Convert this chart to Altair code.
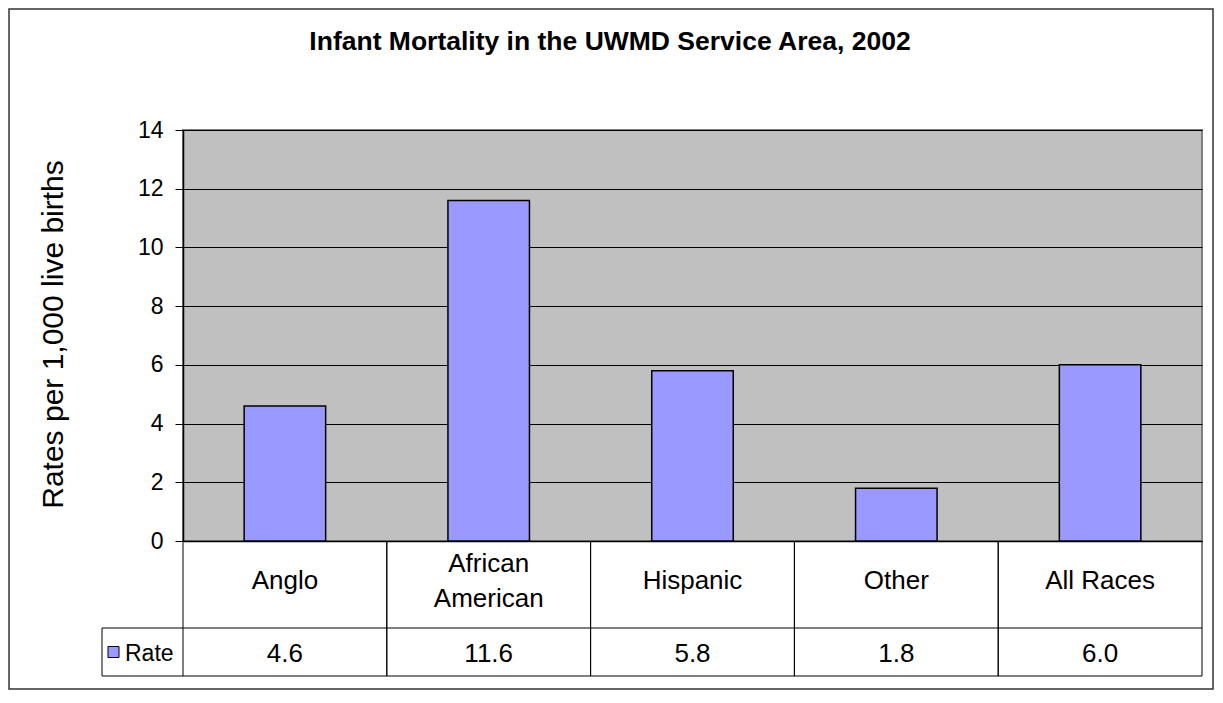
import altair as alt
import pandas as pd

# ---- data ----
categories = ["Anglo", "African American", "Hispanic", "Other", "All Races"]
rates = [4.6, 11.6, 5.8, 1.8, 6.0]
table_labels = ["Anglo", "African\nAmerican", "Hispanic", "Other", "All Races"]
series_name = ["Rate"]
title_text = ["Infant Mortality in the UWMD Service Area, 2002"]
y_title_text = ["Rates per 1,000 live births"]
y_ticks = [0, 2, 4, 6, 8, 10, 12, 14]

df = pd.DataFrame({"category": categories, "rate": rates, "label": table_labels})
one = pd.DataFrame({"series": series_name, "title": title_text, "ytitle": y_title_text})

W, H = 1019, 411
FONT = "Liberation Sans"
ROW1_BOTTOM = 498   # bottom of category-name row (relative to plot top)
ROW2_BOTTOM = 546   # bottom of value row
TABLE_LEFT = -81
LINE_H = 35

x_axis = alt.Axis(labels=False, ticks=False, domain=True, domainColor="black",
                  domainWidth=1.5, title=None, grid=False)
x_scale = alt.Scale(paddingInner=0, paddingOuter=0)


def xenc(bp=None):
    if bp is None:
        return alt.X("category:N", sort=categories, scale=x_scale, axis=x_axis)
    return alt.X("category:N", sort=categories, scale=x_scale, axis=x_axis, bandPosition=bp)


base = alt.Chart(df)

frame = alt.Chart(one).mark_rect(fillOpacity=0, stroke="#333333", strokeWidth=1.5).encode(
    x=alt.value(-174), x2=alt.value(1030), y=alt.value(-121), y2=alt.value(559)
)

bars = base.mark_bar(fill="#9999FF", stroke="black", strokeWidth=1.5,
                     width=alt.RelativeBandSize(0.4)).encode(
    x=xenc(),
    y=alt.Y("rate:Q",
            scale=alt.Scale(domain=[0, 14], nice=False),
            axis=alt.Axis(values=y_ticks, grid=True, gridColor="black", gridWidth=1,
                          tickColor="black", tickSize=8, tickWidth=1,
                          domainColor="black", domainWidth=1.5,
                          labelFont=FONT, labelFontSize=23, labelColor="black",
                          labelPadding=12, title=None)),
)

# single-line category names, vertically centred in the row
cat_text_single = base.transform_filter(
    "indexof(datum.label, '\\n') < 0"
).mark_text(font=FONT, fontSize=26, color="black", baseline="middle").encode(
    x=xenc(), y=alt.value(451), text="label:N"
)
# two-line category names, block centred in the row
cat_text_multi = base.transform_filter(
    "indexof(datum.label, '\\n') >= 0"
).mark_text(font=FONT, fontSize=26, color="black", baseline="middle",
            lineBreak="\n", lineHeight=LINE_H).encode(
    x=xenc(), y=alt.value(451 - LINE_H / 2), text="label:N"
)

val_text = base.mark_text(font=FONT, fontSize=26, color="black", baseline="middle").encode(
    x=xenc(), y=alt.value(524), text=alt.Text("rate:Q", format=".1f")
)

div_left = base.mark_rule(color="black", strokeWidth=1).encode(
    x=xenc(0), y=alt.value(H), y2=alt.value(ROW2_BOTTOM)
)
div_right = base.mark_rule(color="black", strokeWidth=1).encode(
    x=xenc(1), y=alt.value(H), y2=alt.value(ROW2_BOTTOM)
)

hline1 = alt.Chart(one).mark_rule(color="black", strokeWidth=1).encode(
    x=alt.value(TABLE_LEFT), x2=alt.value(W), y=alt.value(ROW1_BOTTOM)
)
hline2 = alt.Chart(one).mark_rule(color="black", strokeWidth=1).encode(
    x=alt.value(TABLE_LEFT), x2=alt.value(W), y=alt.value(ROW2_BOTTOM)
)
vleft = alt.Chart(one).mark_rule(color="black", strokeWidth=1).encode(
    x=alt.value(TABLE_LEFT), y=alt.value(ROW1_BOTTOM), y2=alt.value(ROW2_BOTTOM)
)

swatch = alt.Chart(one).mark_square(size=121, fill="#9999FF", stroke="black",
                                    strokeWidth=1, opacity=1).encode(
    x=alt.value(-69.5), y=alt.value(522)
)
legend_text = alt.Chart(one).mark_text(font=FONT, fontSize=23, color="black",
                                       align="left", baseline="middle").encode(
    x=alt.value(-58), y=alt.value(524), text="series:N"
)

title = alt.Chart(one).mark_text(font=FONT, fontSize=26.5, fontWeight="bold", color="black",
                                 align="center", baseline="alphabetic").encode(
    x=alt.value(427), y=alt.value(-80), text="title:N"
)

ytitle = alt.Chart(one).mark_text(font=FONT, fontSize=30, color="black", angle=270,
                                  align="center", baseline="alphabetic").encode(
    x=alt.value(-120), y=alt.value(204.5), text="ytitle:N"
)

chart = alt.layer(
    frame, bars, div_left, div_right, hline1, hline2, vleft,
    cat_text_single, cat_text_multi, val_text, swatch, legend_text, title, ytitle
).properties(
    width=W, height=H,
    autosize=alt.AutoSizeParams(type="none"),
    padding={"left": 175, "top": 122, "right": 12, "bottom": 150},
    background="white",
).configure_view(
    fill="#C0C0C0", stroke="#808080", strokeWidth=2
)

chart.save("out.html", embed_options={"renderer": "svg", "actions": False})
